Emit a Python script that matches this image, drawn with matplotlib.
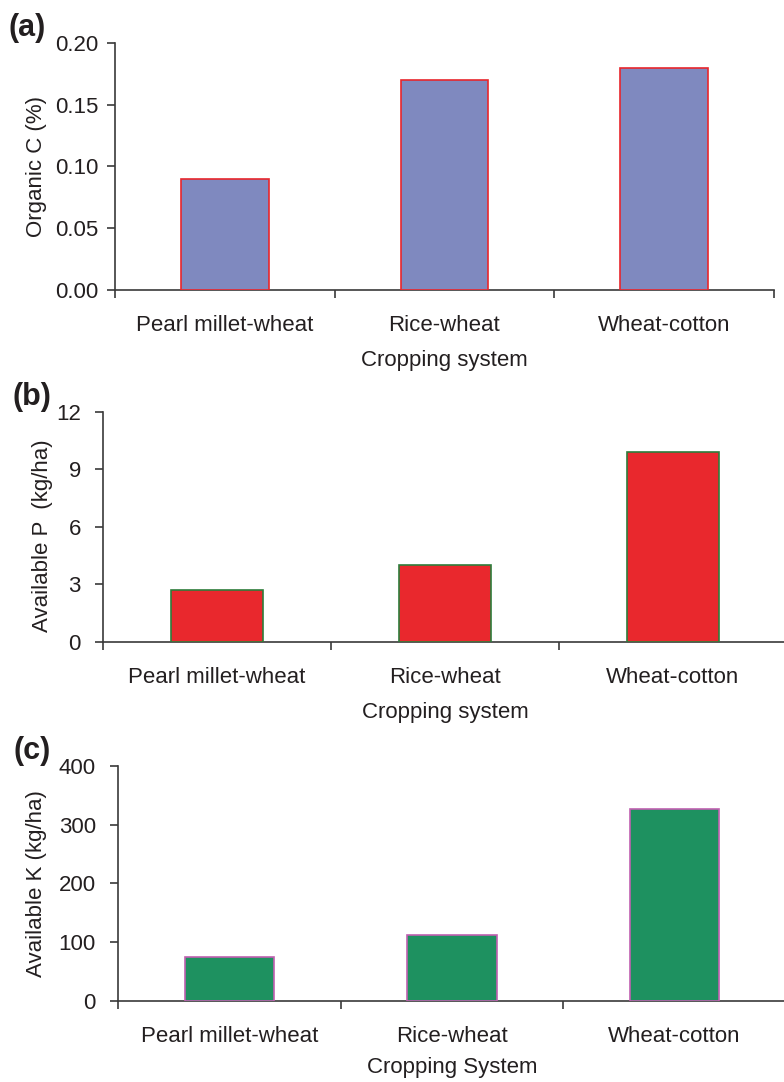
import matplotlib.pyplot as plt
import numpy as np

# Data
systems = ['Pearl millet-wheat', 'Rice-wheat', 'Wheat-cotton']
systems_b = ['Pearl millet-wheat', 'Rice-wheat', 'Wheat\u2011cotton']
organic_c = [0.09, 0.17, 0.18]
avail_p = [2.7, 4.0, 9.9]
avail_k = [75, 113, 327]

plt.rcParams['font.family'] = ['Liberation Sans', 'DejaVu Sans']
plt.rcParams['font.size'] = 16
txt = '#231f20'
spine_col = '#3a3a3a'

fig = plt.figure(figsize=(7.84, 10.82), dpi=100)

panels = [
    # rect, values, fill, edge, ylabel, yticks, ytick labels, xlabel, letter,
    # ytick pad, categories, ylabel coords, letter x, xlabel pad
    ([0.1467, 0.7320, 0.8405, 0.2283], organic_c, '#7f89bf', '#e8262c',
     'Organic C (%)', [0, 0.05, 0.10, 0.15, 0.20],
     ['0.00', '0.05', '0.10', '0.15', '0.20'], 'Cropping system', '(a)', 6, systems,
     (-0.103, 0.5), -0.162, 10),
    ([0.1314, 0.4067, 0.8724, 0.2126], avail_p, '#e9282d', '#2e7d3b',
     'Available P  (kg/ha)', [0, 3, 6, 9, 12],
     ['0', '3', '6', '9', '12'], 'Cropping system', '(b)', 10, systems_b,
     (-0.073, 0.46), -0.132, 10),
    ([0.1505, 0.0749, 0.8520, 0.2172], avail_k, '#1e9160', '#c060b0',
     'Available K (kg/ha)', [0, 100, 200, 300, 400],
     ['0', '100', '200', '300', '400'], 'Cropping System', '(c)', 10, systems,
     (-0.106, 0.5), -0.157, 7),
]

for (rect, vals, fill, edge, ylab, yt, ytl, xlab, letter, ypad, cats,
     ylab_xy, letter_x, xpad) in panels:
    ax = fig.add_axes(rect)
    x = np.arange(len(vals))
    ax.bar(x, vals, width=0.4, color=fill, edgecolor=edge, linewidth=1.2, zorder=3)
    ax.set_xlim(-0.5, 2.5)
    ax.set_ylim(yt[0], yt[-1])
    ax.set_yticks(yt)
    ax.set_yticklabels(ytl)
    ax.set_xticks(x)
    ax.set_xticklabels(cats)
    ax.set_xticks([-0.5, 0.5, 1.5, 2.5], minor=True)
    ax.tick_params(axis='x', which='major', length=0, pad=18, colors=txt)
    ax.tick_params(axis='x', which='minor', length=6, width=1.2, direction='out', color=spine_col)
    ax.tick_params(axis='y', length=6, width=1.2, direction='out', color=spine_col,
                   pad=ypad, labelcolor=txt)
    for s in ['top', 'right']:
        ax.spines[s].set_visible(False)
    for s in ['left', 'bottom']:
        ax.spines[s].set_color(spine_col)
        ax.spines[s].set_linewidth(1.2)
    ax.set_ylabel(ylab, color=txt)
    ax.yaxis.set_label_coords(*ylab_xy)
    ax.set_xlabel(xlab, color=txt, labelpad=xpad)
    ax.text(letter_x, 1.0, letter, transform=ax.transAxes, fontsize=22,
            fontweight='bold', color=txt, ha='left', va='bottom')

plt.savefig('out.png', dpi=100)
